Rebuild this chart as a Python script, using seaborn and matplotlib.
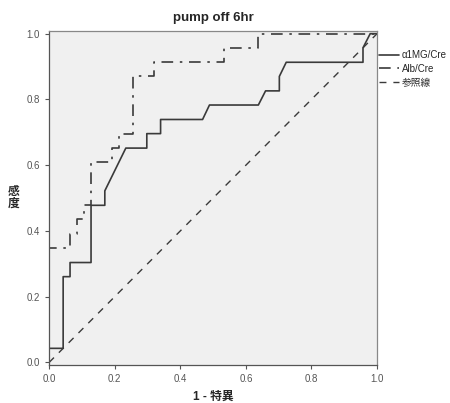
import matplotlib
matplotlib.use("Agg")
import matplotlib.pyplot as plt
import seaborn as sns
import pandas as pd

# ROC curves
a1mg_x = [0.0, 0.0, 0.043, 0.043, 0.064, 0.064, 0.128, 0.128, 0.170, 0.170, 0.234, 0.298, 0.298,
          0.340, 0.340, 0.468, 0.489, 0.638, 0.660, 0.702, 0.702, 0.723, 0.957, 0.957, 0.979, 1.0]
a1mg_y = [0.0, 0.043, 0.043, 0.261, 0.261, 0.304, 0.304, 0.478, 0.478, 0.522, 0.652, 0.652, 0.696,
          0.696, 0.739, 0.739, 0.783, 0.783, 0.826, 0.826, 0.870, 0.913, 0.913, 0.957, 1.0, 1.0]

alb_x = [0.0, 0.0, 0.064, 0.064, 0.085, 0.085, 0.106, 0.106, 0.128, 0.128, 0.191, 0.191, 0.213,
         0.213, 0.255, 0.255, 0.319, 0.319, 0.532, 0.532, 0.638, 0.638, 1.0]
alb_y = [0.0, 0.348, 0.348, 0.391, 0.391, 0.435, 0.435, 0.478, 0.478, 0.609, 0.609, 0.652, 0.652,
         0.696, 0.696, 0.870, 0.870, 0.913, 0.913, 0.957, 0.957, 1.0, 1.0]

ref_x = [0.0, 1.0]
ref_y = [0.0, 1.0]

labels = ["α1MG/Cre", "Alb/Cre", "参照線"]

sns.set_style("ticks")
plt.rcParams['font.family'] = ['Liberation Sans', 'Noto Sans CJK JP', 'DejaVu Sans']

fig = plt.figure(figsize=(4.5, 4.03), dpi=100)
ax = fig.add_axes([0.109, 0.094, 0.729, 0.829])
ax.set_facecolor('#f0f0f0')

line_col = '#3a3a3a'
sns.lineplot(x=a1mg_x, y=a1mg_y, sort=False, estimator=None, ax=ax, color=line_col,
             linewidth=1.2, label=labels[0])
sns.lineplot(x=alb_x, y=alb_y, sort=False, estimator=None, ax=ax, color=line_col,
             linewidth=1.2, label=labels[1])
ax.lines[-1].set_dashes([7, 4, 1.5, 4])
sns.lineplot(x=ref_x, y=ref_y, sort=False, estimator=None, ax=ax, color=line_col,
             linewidth=1.0, label=labels[2])
ax.lines[-1].set_dashes([5, 5])

ax.set_xlim(0, 1)
ax.set_ylim(-0.008, 1.008)
ticks = [0.0, 0.2, 0.4, 0.6, 0.8, 1.0]
ax.set_xticks(ticks)
ax.set_yticks(ticks)
ax.set_xticklabels([f"{t:.1f}" for t in ticks])
ax.set_yticklabels([f"{t:.1f}" for t in ticks])
ax.tick_params(labelsize=7, colors='#555555', length=3, width=0.8)
for s in ax.spines.values():
    s.set_color('#888888')
    s.set_linewidth(0.9)
ax.spines['left'].set_color('#555555')
ax.spines['bottom'].set_color('#555555')

ax.set_title("pump off 6hr", fontsize=9.5, fontweight='bold', pad=7)
ax.set_xlabel("1 - 特異", fontsize=8.5, fontweight='bold', labelpad=5)
ax.set_ylabel("感\n度", fontsize=8.5, fontweight='bold', rotation=0, labelpad=9,
              va='center', linespacing=1.0)

leg = ax.legend(loc='upper left', bbox_to_anchor=(0.995, 0.955), frameon=False,
                fontsize=7, handlelength=2.0, handletextpad=0.3, labelspacing=0.4,
                borderaxespad=0)

fig.savefig("out.png", dpi=100)
